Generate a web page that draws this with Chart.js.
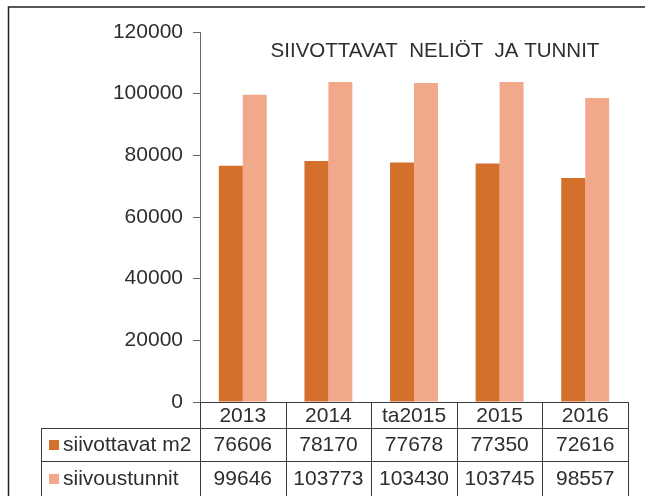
<!DOCTYPE html>
<html>
<head>
<meta charset="utf-8">
<script src="https://cdn.jsdelivr.net/npm/chart.js@4.4.1/dist/chart.umd.min.js"></script>
<style>
  html, body { margin: 0; padding: 0; background: #fff; }
  #wrap { position: relative; width: 645px; height: 496px; }
</style>
</head>
<body>
<div id="wrap"><canvas id="c" width="645" height="496"></canvas></div>
<script>
const chartTitle = 'SIIVOTTAVAT  NELIÖT  JA TUNNIT';
const categories = ['2013', '2014', 'ta2015', '2015', '2016'];
const seriesNames = ['siivottavat m2', 'siivoustunnit'];
const siivottavatM2 = [76606, 78170, 77678, 77350, 72616];
const siivoustunnit = [99646, 103773, 103430, 103745, 98557];
const yTickValues = [0, 20000, 40000, 60000, 80000, 100000, 120000];

const colors = ['#D4702C', '#F2A98B'];
const textColor = '#2e2e2e';
const lineColor = '#3c3c3c';
const fontFamily = '"Liberation Sans", Arial, sans-serif';

const tablePlugin = {
  id: 'dataTable',
  afterDraw(chart) {
    const ctx = chart.ctx;
    const area = chart.chartArea;
    const xs = chart.scales.x;
    const n = categories.length;
    const colW = (area.right - area.left) / n;
    const top = area.bottom;
    const r1 = top + 26;
    const r2 = top + 59;
    const bottom = 500;
    const legendLeft = 41;

    ctx.save();
    // outer frame (cropped)
    ctx.strokeStyle = '#222';
    ctx.lineWidth = 1.5;
    ctx.beginPath();
    ctx.moveTo(8.5, 500); ctx.lineTo(8.5, 7); ctx.lineTo(645, 7);
    ctx.stroke();

    // table lines
    ctx.strokeStyle = lineColor;
    ctx.lineWidth = 1;
    ctx.beginPath();
    ctx.moveTo(area.left, top + 0.5); ctx.lineTo(area.right, top + 0.5);
    ctx.moveTo(legendLeft, r1 + 0.5); ctx.lineTo(area.right, r1 + 0.5);
    ctx.moveTo(legendLeft, r2 + 0.5); ctx.lineTo(area.right, r2 + 0.5);
    ctx.moveTo(legendLeft + 0.5, r1); ctx.lineTo(legendLeft + 0.5, bottom);
    for (let i = 0; i <= n; i++) {
      const x = Math.round(area.left + i * colW) + 0.5;
      ctx.moveTo(x, top); ctx.lineTo(x, bottom);
    }
    ctx.stroke();

    // texts
    ctx.fillStyle = textColor;
    ctx.font = '21px ' + fontFamily;
    ctx.textAlign = 'center';
    ctx.textBaseline = 'middle';
    const rowsData = [siivottavatM2, siivoustunnit];
    categories.forEach((c, i) => {
      const cx = xs.getPixelForValue(i);
      ctx.fillText(c, cx, top + 14);
      ctx.fillText(String(rowsData[0][i]), cx, r1 + 17);
      ctx.fillText(String(rowsData[1][i]), cx, r2 + 18);
    });
    // legend column
    ctx.textAlign = 'left';
    const ys = [r1 + 17, r2 + 18];
    seriesNames.forEach((name, k) => {
      ctx.fillStyle = colors[k];
      ctx.fillRect(49, ys[k] - 5, 10, 10);
      ctx.fillStyle = textColor;
      ctx.fillText(name, 63, ys[k]);
    });

    // title
    ctx.textAlign = 'center';
    ctx.font = '20.5px ' + fontFamily;
    ctx.fillText(chartTitle, (area.left + area.right) / 2 + 21, 51);
    ctx.restore();
  }
};

new Chart(document.getElementById('c'), {
  type: 'bar',
  data: {
    labels: categories,
    datasets: [
      { label: seriesNames[0], data: siivottavatM2, backgroundColor: colors[0],
        categoryPercentage: 0.56, barPercentage: 1.0 },
      { label: seriesNames[1], data: siivoustunnit, backgroundColor: colors[1],
        categoryPercentage: 0.56, barPercentage: 1.0 }
    ]
  },
  options: {
    responsive: false,
    animation: false,
    events: [],
    layout: { padding: { left: 0, right: 17, top: 32, bottom: 0 } },
    plugins: {
      legend: { display: false },
      title: { display: false },
      tooltip: { enabled: false }
    },
    scales: {
      x: {
        ticks: { display: false },
        grid: { display: false },
        border: { display: false },
        afterFit(scale) { scale.height = 94; }
      },
      y: {
        min: 0, max: 120000,
        afterBuildTicks(scale) { scale.ticks = yTickValues.map(v => ({ value: v })); },
        afterFit(scale) { scale.width = 200; },
        ticks: {
          color: textColor,
          font: { family: fontFamily, size: 21 },
          padding: 10,
          callback: v => String(v)
        },
        grid: { drawOnChartArea: false, drawTicks: true, tickLength: 7, color: '#666' },
        border: { display: true, color: '#666', width: 1 }
      }
    }
  },
  plugins: [tablePlugin]
});
</script>
</body>
</html>
